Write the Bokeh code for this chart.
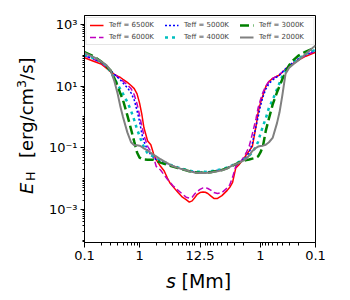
import numpy as np
from bokeh.plotting import figure
from bokeh.layouts import row, column
from bokeh.models import Range1d, FixedTicker, Legend, LegendItem, Div
from bokeh.embed import file_html
from bokeh.resources import INLINE

HALF_LOOP = 12.5  # Mm, distance footpoint -> apex

# distance from the left footpoint [Mm] (left half, up to the apex)
dist_left = [0.1, 0.15, 0.2, 0.25, 0.3, 0.35, 0.4, 0.45, 0.5, 0.6, 0.7, 0.8, 0.9,
             1.0, 1.1, 1.2, 1.4, 1.6, 1.8, 2.0, 2.4, 2.8, 3.2, 3.6, 4.0, 5.0,
             6.0, 7.0, 8.0, 9.0, 10.0, 11.0, 12.5]
# distance from the right footpoint [Mm] (right half, apex -> footpoint)
dist_right = [11.0, 10.0, 9.0, 8.0, 7.0, 6.0, 5.0, 4.0, 3.6, 3.2, 2.8, 2.4, 2.0,
              1.8, 1.6, 1.4, 1.2, 1.1, 1.0, 0.9, 0.8, 0.7, 0.6, 0.5, 0.45, 0.4,
              0.35, 0.3, 0.25, 0.2, 0.15, 0.1]

# log10 of heating rate E_H [erg/cm^3/s]
logE_6500 = [1.92, 1.80, 1.72, 1.58, 1.46, 1.38, 1.32, 1.28, 1.22, 1.12, 1.02, 0.92, 0.75,
             0.45, 0.08, -0.35, -0.78, -0.90, -1.20, -1.38, -1.60, -1.75, -1.98, -2.15,
             -2.25, -2.45, -2.60, -2.68, -2.76, -2.72, -2.62, -2.52, -2.45,
             -2.43, -2.44, -2.48, -2.56, -2.64, -2.64, -2.55, -2.38, -2.28, -2.12, -1.65,
             -1.53, -1.35, -1.22, -1.10, -0.95, -0.30, 0.15, 0.45, 0.70, 0.98, 1.15,
             1.25, 1.32, 1.36, 1.45, 1.55, 1.64, 1.74, 1.85, 1.97, 2.10]
logE_6000 = [1.98, 1.86, 1.76, 1.62, 1.48, 1.38, 1.30, 1.24, 1.16, 1.04, 0.92, 0.72, 0.42,
             0.05, -0.30, -0.60, -0.95, -1.12, -1.30, -1.60, -1.72, -1.88, -2.02, -2.12,
             -2.22, -2.38, -2.50, -2.60, -2.63, -2.60, -2.50, -2.42, -2.35,
             -2.30, -2.29, -2.32, -2.37, -2.45, -2.48, -2.45, -2.30, -2.20, -1.95, -1.60,
             -1.50, -1.30, -1.15, -0.95, -0.55, -0.05, 0.30, 0.55, 0.80, 1.00, 1.15,
             1.25, 1.32, 1.38, 1.46, 1.56, 1.66, 1.76, 1.88, 2.00, 2.14]
logE_5000 = [2.00, 1.88, 1.78, 1.64, 1.50, 1.38, 1.28, 1.20, 1.10, 0.95, 0.78, 0.55, 0.20,
             -0.15, -0.55, -0.80, -1.08, -1.22, -1.32, -1.38, -1.42, -1.48, -1.52, -1.56,
             -1.59, -1.65, -1.69, -1.72, -1.75, -1.77, -1.78, -1.79, -1.79,
             -1.79, -1.79, -1.78, -1.77, -1.75, -1.73, -1.70, -1.65, -1.61, -1.57, -1.52,
             -1.46, -1.38, -1.30, -1.15, -0.85, -0.30, 0.00, 0.35, 0.65, 0.90, 1.08,
             1.20, 1.30, 1.36, 1.45, 1.56, 1.67, 1.78, 1.90, 2.02, 2.16]
logE_4000 = [2.02, 1.90, 1.80, 1.66, 1.45, 1.25, 1.05, 0.90, 0.75, 0.48, 0.20, -0.10, -0.40,
             -0.62, -0.82, -0.98, -1.18, -1.24, -1.28, -1.32, -1.40, -1.46, -1.51, -1.55,
             -1.58, -1.64, -1.68, -1.71, -1.74, -1.76, -1.77, -1.78, -1.78,
             -1.78, -1.78, -1.77, -1.76, -1.74, -1.72, -1.69, -1.64, -1.60, -1.56, -1.51,
             -1.45, -1.38, -1.32, -1.25, -1.15, -0.95, -0.80, -0.55, -0.30, -0.05, 0.30,
             0.55, 0.90, 1.10, 1.32, 1.50, 1.64, 1.78, 1.90, 2.04, 2.18]
logE_3000 = [2.10, 1.96, 1.80, 1.64, 1.50, 1.25, 1.00, 0.75, 0.55, 0.05, -0.40, -0.80, -1.15,
             -1.32, -1.36, -1.38, -1.39, -1.39, -1.39, -1.42, -1.48, -1.52, -1.55, -1.58,
             -1.61, -1.66, -1.70, -1.73, -1.76, -1.78, -1.79, -1.80, -1.81,
             -1.81, -1.81, -1.80, -1.79, -1.77, -1.75, -1.72, -1.66, -1.62, -1.58, -1.53,
             -1.47, -1.42, -1.40, -1.38, -1.35, -1.32, -1.28, -1.15, -0.95, -0.45, -0.05,
             0.40, 0.80, 1.00, 1.22, 1.45, 1.68, 1.85, 2.00, 2.12, 2.25]
logE_2000 = [2.08, 1.93, 1.80, 1.68, 1.50, 1.15, 0.75, 0.32, 0.00, -0.50, -0.82, -0.92, -0.92,
             -0.93, -0.97, -1.02, -1.09, -1.16, -1.23, -1.28, -1.37, -1.44, -1.50, -1.55,
             -1.59, -1.65, -1.70, -1.73, -1.76, -1.78, -1.80, -1.81, -1.82,
             -1.82, -1.82, -1.81, -1.80, -1.78, -1.76, -1.73, -1.67, -1.62, -1.57, -1.53,
             -1.48, -1.41, -1.35, -1.25, -1.10, -1.00, -0.96, -0.94, -0.93, -0.90, -0.82,
             -0.68, -0.20, 0.15, 0.70, 1.40, 1.60, 1.72, 1.85, 2.05, 2.32]

series_labels = ["Teff = 6500K", "Teff = 6000K", "Teff = 5000K",
                 "Teff = 4000K", "Teff = 3000K", "Teff = 2000K"]

x_tick_dist_left = [0.1, 1.0, 12.5]
x_tick_dist_right = [1.0, 0.1]
x_tick_labels = ["0.1", "1", "12.5", "1", "0.1"]
y_ticks = [1e-3, 1e-1, 1e1, 1e3]
y_tick_labels = ["10\u207b\u00b3", "10\u207b\u00b9", "10\u00b9", "10\u00b3"]

# folded log axis: log10(distance) from the left footpoint, mirrored for right half
APEX = np.log10(HALF_LOOP)
def fold_left(d):
    return np.log10(np.asarray(d, dtype=float))
def fold_right(d):
    return 2 * APEX - np.log10(np.asarray(d, dtype=float))

xs = np.concatenate([fold_left(dist_left), fold_right(dist_right)])

# page layout: y-title strip (44px) | figure ; x-title strip (30px) below
YL_W, XL_H = 44, 30
W, H = 350 - YL_W, 300 - XL_H
FL, FT, FW, FH = 84 - YL_W, 15, 231, 227   # frame left/top/width/height inside figure
p = figure(width=W, height=H, output_backend="svg", toolbar_location=None,
           x_range=Range1d(float(fold_left(0.1)), float(fold_right(0.1))),
           y_range=Range1d(10 ** -4.07, 10 ** 3.29), y_axis_type="log",
           min_border_left=FL, min_border_right=W - FL - FW, min_border_top=FT,
           min_border_bottom=H - FT - FH)
p.title.visible = False
p.grid.visible = False
p.outline_line_color = "black"
p.outline_line_width = 1
p.background_fill_color = "white"
p.border_fill_color = "white"

styles = [
    dict(color="#ff0000", line_width=1.5, line_dash="solid"),
    dict(color="#bf00bf", line_width=1.5, line_dash="6 3"),
    dict(color="#0000ff", line_width=1.5, line_dash="2 2"),
    dict(color="#00bfbf", line_width=2.5, line_dash="3 4"),
    dict(color="#008000", line_width=2.5, line_dash="9 4"),
    dict(color="#808080", line_width=2.0, line_dash="solid"),
]
series = [logE_6500, logE_6000, logE_5000, logE_4000, logE_3000, logE_2000]
items = []
for lab, vals, st in zip(series_labels, series, styles):
    r = p.line(xs, 10 ** np.array(vals), line_color=st["color"],
               line_width=st["line_width"], line_dash=st["line_dash"])
    items.append(LegendItem(label=lab, renderers=[r]))

legend = Legend(items=items, location="top_center", orientation="vertical", nrows=2,
                label_text_font="DejaVu Sans", label_text_font_size="7px",
                glyph_width=14, glyph_height=8, label_height=8, label_width=51,
                label_standoff=6, spacing=4, padding=3, margin=2,
                border_line_color="#cccccc", border_line_width=1,
                background_fill_alpha=0.8)
p.add_layout(legend)

# x axis
major_x = [float(v) for v in fold_left(x_tick_dist_left)] + \
          [float(v) for v in fold_right(x_tick_dist_right)]
minor_left = [k * 0.1 for k in range(2, 10)] + [float(k) for k in range(2, 11)]
minor_x = [float(v) for v in fold_left(minor_left)] + [float(v) for v in fold_right(minor_left)]
p.xaxis.ticker = FixedTicker(ticks=major_x, minor_ticks=minor_x)
p.xaxis.major_label_overrides = {t: l for t, l in zip(major_x, x_tick_labels)}

# y axis
minor_y = []
for e in range(-5, 4):
    for k in range(1, 10):
        v = k * 10.0 ** e
        if k == 1 and e in (-3, -1, 1, 3):
            continue
        minor_y.append(v)
p.yaxis.ticker = FixedTicker(ticks=y_ticks, minor_ticks=minor_y)
p.yaxis.major_label_overrides = {t: l for t, l in zip(y_ticks, y_tick_labels)}

for ax in (p.xaxis[0], p.yaxis[0]):
    ax.axis_line_color = "black"
    ax.major_tick_line_color = "black"
    ax.minor_tick_line_color = "black"
    ax.major_tick_in = 0
    ax.minor_tick_in = 0
    ax.major_label_text_font = "DejaVu Sans"
    ax.major_label_text_font_size = "13px"
    ax.major_label_text_color = "black"
p.xaxis.major_tick_out = 5
p.xaxis.minor_tick_out = 3
p.xaxis.major_label_standoff = 3
p.yaxis.major_tick_out = 4
p.yaxis.minor_tick_out = 2
p.yaxis.major_label_standoff = 3

# axis titles (real text, with italic / sub- and superscripts)
FONT = "font-family:'DejaVu Sans'; color:black; white-space:nowrap; margin:0; padding:0;"
def rot(left, top, size, inner, style=""):
    return (f'<span style="position:absolute; left:{left}px; top:{top}px; '
            f'transform-origin:0 0; transform:rotate(-90deg); font-size:{size}px; '
            f'line-height:{size}px; {FONT} {style}">{inner}</span>')
def flat(left, top, size, inner, style=""):
    return (f'<span style="position:absolute; left:{left}px; top:{top}px; '
            f'font-size:{size}px; line-height:{size}px; {FONT} {style}">{inner}</span>')

ylab_html = ('<div style="position:relative; width:%dpx; height:%dpx;">' % (YL_W, H)
             + rot(17.8, 194, 18, "E", "font-style:italic;")
             + rot(25.3, 181, 12.6, "H")
             + rot(17.8, 158, 18,
                   '[erg/cm<span style="font-size:12.6px; position:relative; top:-7px;">3</span>/s]')
             + '</div>')
xlab_html = ('<div style="position:relative; width:350px; height:%dpx;">' % XL_H
             + flat(166, 2.4, 19, "s", "font-style:italic;")
             + flat(181.5, 2.4, 19, "[Mm]")
             + '</div>')

ydiv = Div(text=ylab_html, width=YL_W, height=H, margin=0)
xdiv = Div(text=xlab_html, width=350, height=XL_H, margin=0)
layout = column(row(ydiv, p, spacing=0), xdiv, spacing=0)

open("out.html", "w").write(file_html(layout, INLINE))
